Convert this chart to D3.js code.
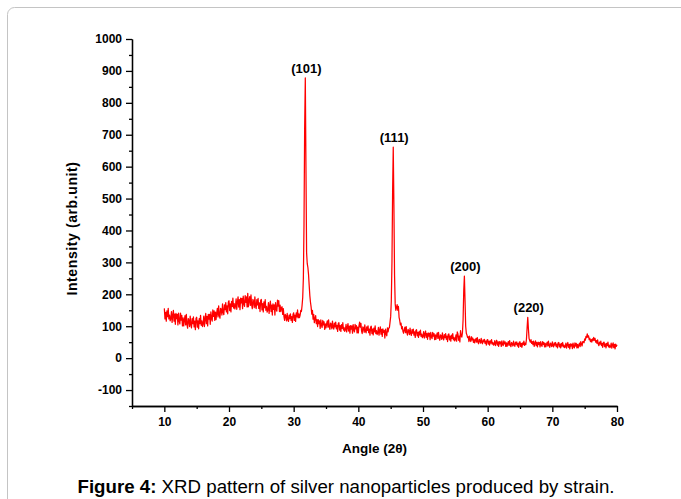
<!DOCTYPE html>
<html>
<head>
<meta charset="utf-8">
<script src="https://cdn.jsdelivr.net/npm/d3@7"></script>
<style>
  body { margin: 0; background: #fff; }
  #chart { width: 681px; height: 499px; }
  .axis path, .axis line { stroke: #000; stroke-width: 1.3px; }
  .axis text { font-family: "Liberation Sans", Arial, sans-serif; font-size: 12px; font-weight: bold; fill: #000; }
</style>
</head>
<body>
<div id="chart"></div>
<script>
// XRD scan, 10 to 80 deg, step 0.1 deg (one row = one degree)
const startAngle = 10;
const stepAngle = 0.1;
const intensity = [
  156,123,143,116,148,130,156,123,135,117,
  124,146,112,134,150,116,138,106,140,124,
  137,104,141,117,107,141,119,134,101,126,
  101,120,133,104,137,106,94,124,118,99,
  132,105,95,124,108,129,98,116,89,125,
  128,97,117,92,124,108,134,103,117,99,
  108,132,99,123,140,108,131,101,137,122,
  137,106,145,124,116,151,131,148,118,144,
  121,142,156,129,164,135,125,156,152,135,
  170,144,136,167,152,174,145,164,139,176,
  180,149,170,145,178,162,188,157,171,154,
  162,186,153,175,192,160,183,152,188,173,
  187,155,194,171,162,196,175,192,160,203,
  161,181,193,165,198,167,155,184,178,158,
  192,164,155,183,167,187,156,173,146,181,
  184,151,171,145,176,158,183,150,162,144,
  152,174,140,163,179,146,166,135,170,153,
  167,135,174,154,147,182,163,180,146,166,
  146,158,161,137,155,130,118,137,132,117,
  140,121,115,135,124,139,118,130,112,137,
  142,118,135,115,142,129,151,126,139,127,
  135,150,146,165,190,250,420,720,878,600,
  330,296,284,262,228,196,175,160,138,150,
  122,137,111,124,133,108,121,99,121,108,
  117,93,120,103,96,118,104,114,90,107,
  95,108,117,97,120,98,90,110,107,92,
  116,97,91,110,98,113,92,103,84,108,
  111,88,102,84,105,93,111,88,96,84,
  89,106,82,97,108,85,100,78,102,91,
  101,78,105,89,82,106,92,102,79,97,
  79,101,113,97,109,85,77,98,95,81,
  104,85,79,98,87,101,80,91,72,97,
  100,77,91,73,94,82,101,77,86,74,
  79,96,72,88,98,75,90,68,92,81,
  86,63,91,76,70,95,82,94,95,112,
  130,180,300,520,661,480,260,170,150,158,
  168,150,162,128,118,104,110,92,99,84,
  78,89,97,80,99,80,72,90,86,74,
  94,78,71,89,78,91,72,82,65,87,
  89,70,81,65,83,73,88,68,75,64,
  69,83,63,75,85,65,77,59,79,69,
  78,58,81,67,61,81,69,77,58,73,
  59,71,79,62,81,63,56,73,70,59,
  79,63,57,74,64,77,59,69,52,74,
  76,57,69,53,72,62,77,57,65,54,
  59,73,53,82,76,56,69,51,86,70,
  66,80,120,210,257,180,100,78,72,64,
  67,52,69,57,52,67,57,63,49,59,
  48,56,62,50,64,50,45,59,55,47,
  62,50,45,57,51,59,46,53,41,57,
  58,44,53,41,54,47,58,44,49,41,
  44,55,39,49,56,41,51,37,52,45,
  51,37,54,43,39,54,45,51,37,48,
  37,46,52,40,55,41,36,49,46,38,
  53,41,37,50,43,51,38,46,34,50,
  51,37,46,34,48,42,53,40,47,42,
  60,95,128,92,62,55,50,58,46,52,
  42,53,37,47,54,39,49,35,50,43,
  49,35,52,41,37,52,43,49,35,46,
  35,44,50,38,53,39,34,47,44,36,
  51,39,35,48,41,49,36,44,32,48,
  49,35,44,32,46,38,49,35,41,33,
  36,47,31,42,49,34,43,29,45,38,
  44,30,47,36,32,48,38,46,32,43,
  32,41,47,36,52,44,38,52,52,48,
  60,56,68,64,76,66,70,58,62,52,
  58,50,60,55,65,56,62,50,55,46,
  57,44,39,50,44,53,39,46,34,49,
  50,36,45,32,46,39,50,35,41,33,
  36,47,31,41,48,33,43,29,44,37,
  42
];

const peakNames = ['(101)', '(111)', '(200)', '(220)'];
const peakAngles = [31.8, 45.4, 56.4, 66.2];
const peakHeights = [878, 661, 257, 128];

const xTicks = [10, 20, 30, 40, 50, 60, 70, 80];
const xMinorTicks = [5, 15, 25, 35, 45, 55, 65, 75];
const yTicks = [-100, 0, 100, 200, 300, 400, 500, 600, 700, 800, 900, 1000];
const yMinorTicks = [-150, -50, 50, 150, 250, 350, 450, 550, 650, 750, 850, 950];

const xTitle = 'Angle (2θ)';
const yTitle = 'Intensity (arb.unit)';

class Chart{
  constructor(opts){
    this.data = opts.data;
    this.element = opts.element;
    this.draw();
  }

  draw(){
    this.width = 681;
    this.height = 499;
    this.margin = { top: 39, bottom: 93, left: 132, right: 64 };

    this.element.innerHTML = '';
    this.svg = d3.select(this.element).append('svg')
      .attr('width', this.width)
      .attr('height', this.height);

    // frame round the figure
    this.svg.append('rect')
      .attr('x', 7.5).attr('y', 7.5)
      .attr('width', 720).attr('height', 540)
      .attr('rx', 7)
      .style('fill', 'none')
      .style('stroke', '#c4c4c4')
      .style('stroke-width', 1);

    this.plot = this.svg.append('g')
      .attr('transform', `translate(${this.margin.left},${this.margin.top})`);

    this.createScales();
    this.addAxes();
    this.addLine();
    this.addLabels();
  }

  createScales(){
    const m = this.margin;
    this.innerW = this.width - m.left - m.right;
    this.innerH = this.height - m.top - m.bottom;

    this.xScale = d3.scaleLinear().domain([5, 80]).range([0, this.innerW]);
    this.yScale = d3.scaleLinear().domain([-150, 1000]).range([this.innerH, 0]);
  }

  addAxes(){
    const fmt = d => String(d);
    const xAxis = d3.axisBottom(this.xScale)
      .tickValues(xTicks).tickSize(6).tickSizeOuter(0).tickPadding(5).tickFormat(fmt);
    const xMinor = d3.axisBottom(this.xScale)
      .tickValues(xMinorTicks).tickSize(3).tickSizeOuter(0).tickFormat('');
    const yAxis = d3.axisLeft(this.yScale)
      .tickValues(yTicks).tickSize(6).tickSizeOuter(0).tickPadding(4).tickFormat(fmt);
    const yMinor = d3.axisLeft(this.yScale)
      .tickValues(yMinorTicks).tickSize(3).tickSizeOuter(0).tickFormat('');

    this.plot.append('g').attr('class', 'x axis')
      .attr('transform', `translate(0,${this.innerH})`).call(xMinor);
    this.plot.append('g').attr('class', 'x axis')
      .attr('transform', `translate(0,${this.innerH})`).call(xAxis);
    this.plot.append('g').attr('class', 'y axis').call(yMinor);
    this.plot.append('g').attr('class', 'y axis').call(yAxis);

    const font = '"Liberation Sans", Arial, sans-serif';

    this.plot.append('text')
      .attr('x', this.innerW / 2)
      .attr('y', this.innerH + 47)
      .attr('text-anchor', 'middle')
      .style('font-family', font)
      .style('font-size', '13.5px')
      .style('font-weight', 'bold')
      .text(xTitle);

    this.plot.append('text')
      .attr('transform', `translate(${-55},${(this.innerH / 2) + 6}) rotate(-90)`)
      .attr('text-anchor', 'middle')
      .style('font-family', font)
      .style('font-size', '14px')
      .style('letter-spacing', '0.6px')
      .style('font-weight', 'bold')
      .text(yTitle);

    // caption below the chart
    const cap = this.svg.append('text')
      .attr('x', 346)
      .attr('y', 493)
      .attr('text-anchor', 'middle')
      .style('font-family', font)
      .style('font-size', '18.7px')
      .style('fill', '#000');
    cap.append('tspan').style('font-weight', 'bold').text('Figure 4:');
    cap.append('tspan').text(' XRD pattern of silver nanoparticles produced by strain.');
  }

  addLine(){
    const line = d3.line()
      .x((d, i) => this.xScale(startAngle + i * stepAngle))
      .y(d => this.yScale(d));

    this.plot.append('path')
      .datum(this.data)
      .classed('line', true)
      .attr('d', line)
      .style('stroke', '#ff0000')
      .style('stroke-width', 1.25)
      .style('stroke-linejoin', 'round')
      .style('fill', 'none');
  }

  addLabels(){
    this.plot.selectAll('.peaklabel')
      .data(peakNames)
      .enter().append('text')
      .attr('class', 'peaklabel')
      .attr('x', (d, i) => this.xScale(peakAngles[i]) + 1)
      .attr('y', (d, i) => this.yScale(peakHeights[i]) - 5)
      .attr('text-anchor', 'middle')
      .style('font-family', '"Liberation Sans", Arial, sans-serif')
      .style('font-size', '13px')
      .style('font-weight', 'bold')
      .text(d => d);
  }
}

new Chart({ data: intensity, element: document.getElementById('chart') });
</script>
</body>
</html>
